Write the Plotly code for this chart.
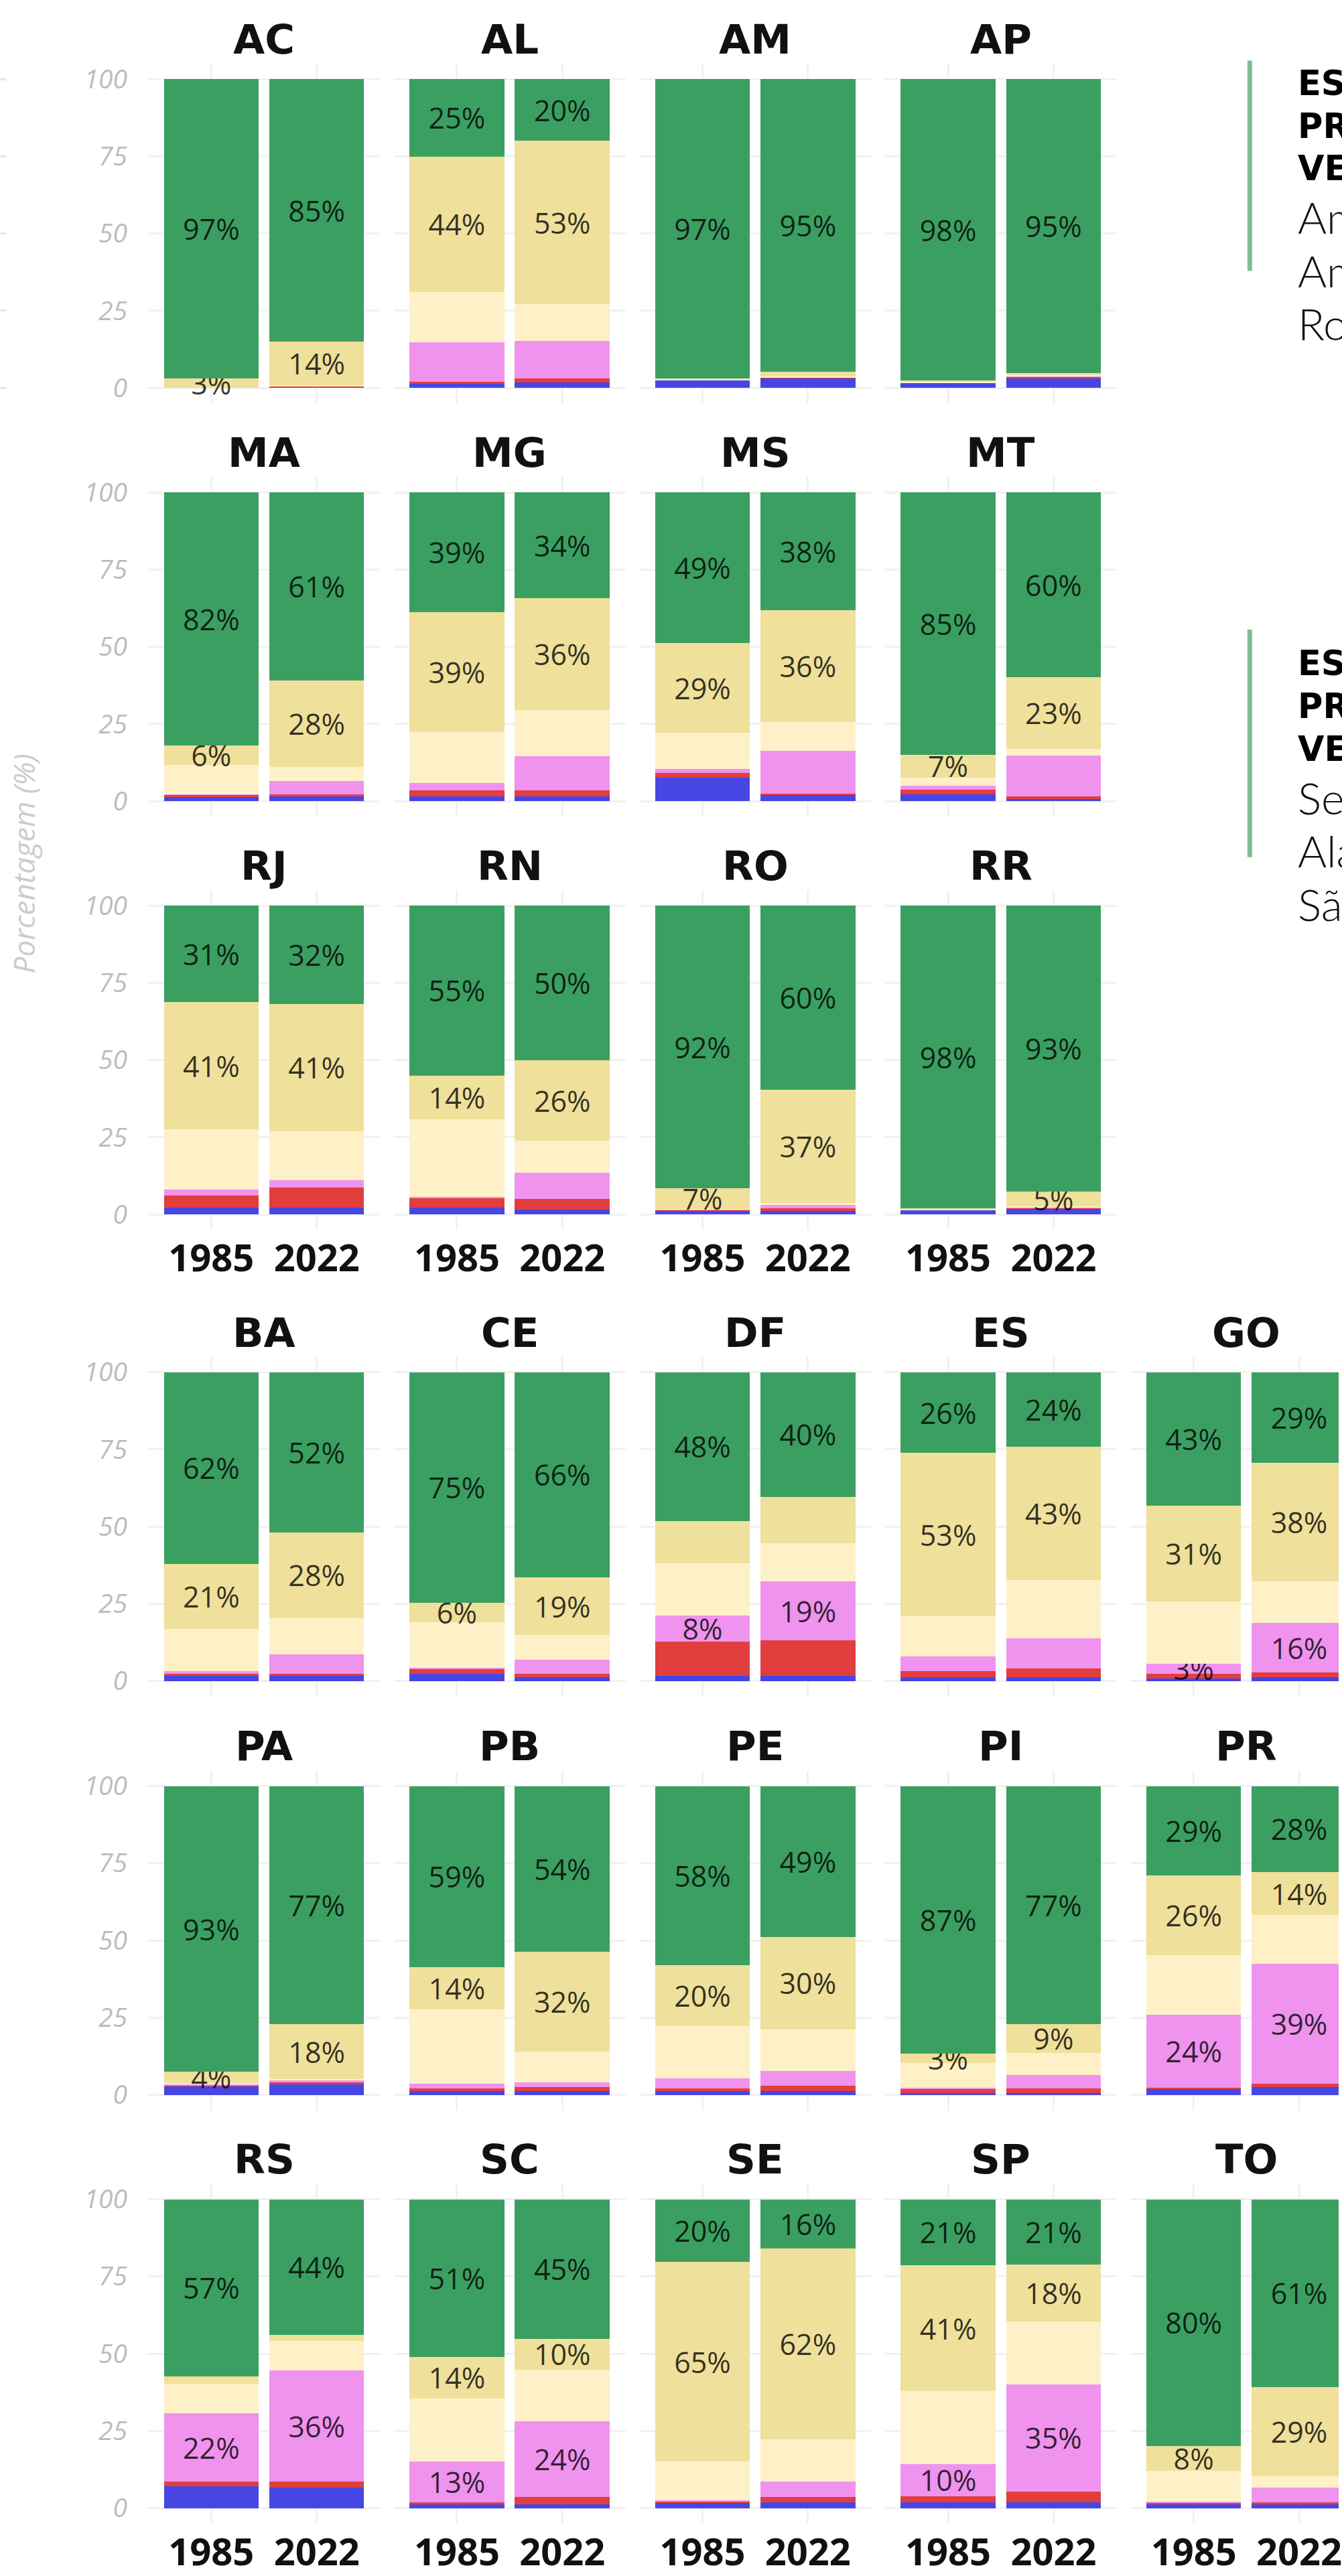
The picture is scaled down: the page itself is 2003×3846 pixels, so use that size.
import plotly.graph_objects as go

W, H = 2003, 3846

# ---------------- data ----------------
estados_topo = ["AC", "AL", "AM", "AP", "MA", "MG", "MS", "MT", "RJ", "RN", "RO", "RR"]
estados_base = ["BA", "CE", "DF", "ES", "GO", "PA", "PB", "PE", "PI", "PR",
                "RS", "SC", "SE", "SP", "TO"]
anos = ["1985", "2022"]

classes = ["Água", "Área não vegetada", "Agricultura", "Mosaico de usos",
           "Pastagem", "Vegetação nativa"]

# values per state: [1985, 2022] (percent of area)
agua = {"AC": [0, 0], "AL": [1.3, 1.8], "AM": [2.5, 3.1], "AP": [1.6, 3.0],
        "MA": [1.3, 1.5], "MG": [1.5, 1.5], "MS": [7.7, 1.9], "MT": [2.3, 0.8],
        "RJ": [2.3, 2.3], "RN": [2.3, 1.5], "RO": [1.1, 1.1], "RR": [1.5, 1.9],
        "BA": [1.6, 1.6], "CE": [2.4, 1.2], "DF": [1.6, 1.6], "ES": [1.2, 1.2],
        "GO": [0.8, 1.2], "PA": [2.9, 3.6], "PB": [1.3, 1.3], "PE": [1.3, 1.3],
        "PI": [0.5, 0.5], "PR": [1.8, 2.5], "RS": [7.0, 6.7], "SC": [1.2, 1.3],
        "SE": [1.8, 1.8], "SP": [1.8, 1.8], "TO": [1.3, 1.2]}
nao_vegetada = {"AC": [0, 0.5], "AL": [0.7, 1.3], "AM": [0, 0.2], "AP": [0, 0.5],
                "MA": [0.7, 0.8], "MG": [2.0, 2.0], "MS": [1.5, 0.6], "MT": [1.5, 0.8],
                "RJ": [3.9, 6.5], "RN": [3.1, 3.5], "RO": [0.3, 0.8], "RR": [0, 0.2],
                "BA": [0.8, 0.8], "CE": [1.6, 1.2], "DF": [11.1, 11.5], "ES": [2.0, 2.8],
                "GO": [1.6, 1.6], "PA": [0.3, 0.4], "PB": [0.8, 1.2], "PE": [0.8, 1.6],
                "PI": [1.6, 1.6], "PR": [0.5, 1.2], "RS": [1.5, 1.8], "SC": [0.6, 2.3],
                "SE": [0.4, 1.8], "SP": [2.1, 3.5], "TO": [0.5, 0.6]}
agricultura = {"AC": [0, 0], "AL": [12.7, 12.1], "AM": [0, 0.1], "AP": [0, 0.4],
               "MA": [0.3, 4.2], "MG": [2.3, 11.1], "MS": [1.2, 13.8], "MT": [1.2, 13.1],
               "RJ": [1.9, 2.4], "RN": [0.2, 8.5], "RO": [0.2, 1.2], "RR": [0, 0.2],
               "BA": [0.8, 6.3], "CE": [0.3, 4.4], "DF": [8.4, 19.1], "ES": [4.7, 9.9],
               "GO": [3.2, 15.9], "PA": [0.4, 0.8], "PB": [1.6, 1.6], "PE": [3.2, 4.8],
               "PI": [0.3, 4.4], "PR": [23.7, 38.8], "RS": [22.2, 36.0], "SC": [13.3, 24.4],
               "SE": [0.4, 4.9], "SP": [10.3, 34.8], "TO": [0.3, 4.9]}
mosaico = {"AC": [0, 0.5], "AL": [16.3, 12.0], "AM": [0.2, 0.3], "AP": [0.3, 0.2],
           "MA": [9.5, 4.7], "MG": [16.5, 15.0], "MS": [11.7, 9.3], "MT": [2.7, 2.3],
           "RJ": [19.4, 15.8], "RN": [25.2, 10.3], "RO": [0.2, 0.7], "RR": [0.2, 0.3],
           "BA": [13.6, 11.6], "CE": [14.8, 8.0], "DF": [17.1, 12.3], "ES": [13.1, 18.8],
           "GO": [20.2, 13.5], "PA": [0.2, 0.3], "PB": [23.9, 10.0], "PE": [16.9, 13.5],
           "PI": [7.9, 7.1], "PR": [19.2, 15.7], "RS": [9.6, 9.6], "SC": [20.3, 16.8],
           "SE": [12.4, 13.8], "SP": [23.6, 20.4], "TO": [9.9, 3.7]}
pastagem = {"AC": [3.0, 14.0], "AL": [44.0, 52.8], "AM": [0.3, 1.6], "AP": [0.5, 0.7],
            "MA": [6.2, 28.0], "MG": [38.9, 36.2], "MS": [29.2, 36.3], "MT": [7.3, 23.2],
            "RJ": [41.3, 41.1], "RN": [14.2, 26.2], "RO": [6.6, 36.6], "RR": [0.2, 4.8],
            "BA": [21.0, 27.8], "CE": [6.2, 18.8], "DF": [13.6, 15.1], "ES": [52.8, 43.2],
            "GO": [31.0, 38.4], "PA": [3.6, 17.7], "PB": [13.7, 32.2], "PE": [19.7, 29.9],
            "PI": [3.0, 9.2], "PR": [25.8, 14.0], "RS": [2.4, 2.0], "SC": [13.6, 10.0],
            "SE": [64.8, 61.8], "SP": [40.9, 18.3], "TO": [8.0, 28.8]}
vegetacao = {"AC": [97.0, 85.0], "AL": [25.0, 20.0], "AM": [97.0, 94.7], "AP": [97.6, 95.2],
             "MA": [82.0, 60.8], "MG": [38.8, 34.2], "MS": [48.7, 38.1], "MT": [85.0, 59.8],
             "RJ": [31.2, 31.9], "RN": [55.0, 50.0], "RO": [91.6, 59.6], "RR": [98.1, 92.6],
             "BA": [62.2, 51.9], "CE": [74.7, 66.4], "DF": [48.2, 40.4], "ES": [26.2, 24.1],
             "GO": [43.2, 29.4], "PA": [92.6, 77.2], "PB": [58.7, 53.7], "PE": [58.1, 48.9],
             "PI": [86.7, 77.2], "PR": [29.0, 27.8], "RS": [57.3, 43.9], "SC": [51.0, 45.2],
             "SE": [20.2, 15.9], "SP": [21.3, 21.2], "TO": [80.0, 60.8]}

series = [agua, nao_vegetada, agricultura, mosaico, pastagem, vegetacao]

# which classes carry a percentage label
rotulo_agricultura = ["DF", "GO", "PR", "RS", "SC", "SP"]
sem_rotulo_pastagem = ["DF", "RS"]
rotulo_minimo = 2.5

ticks_y = [0, 25, 50, 75, 100]

bloco1_titulo = ["ESTADOS COM MAIOR", "PROPORÇÃO DE", "VEGETAÇÃO NATIVA"]
bloco1_estados = ["Amapá", "Amazonas", "Roraima"]
bloco2_titulo = ["ESTADOS COM MENOR", "PROPORÇÃO DE", "VEGETAÇÃO NATIVA"]
bloco2_estados = ["Sergipe", "Alagoas", "São Paulo"]

# ---------------- style ----------------
cores = ["#4646e4", "#e23e3e", "#ef93ee", "#fef1c8", "#efe09b", "#3c9f62"]
GRID = "#f1f1f1"
PANEL_W = 347.0
X_UNIT = PANEL_W / 2.2
Y_UNIT = 4.64
COL0 = 395.0
COL_STEP = 367.5
ROWS_TOP = [114, 735, 1356]
ROWS_BASE = [2057, 2679, 3300]

fig = go.Figure()
annotations = []
shapes = []
layout_axes = {}

panels = []
for i, st in enumerate(estados_topo):
    r, k = divmod(i, 4)
    panels.append((st, r, k, ROWS_TOP[r], r == 2))
for i, st in enumerate(estados_base):
    r, k = divmod(i, 5)
    panels.append((st, r, k, ROWS_BASE[r], r == 2))

for n, (st, r, k, y100, last_row) in enumerate(panels, start=1):
    cx = COL0 + COL_STEP * k
    x0 = cx - PANEL_W / 2
    x1 = x0 + PANEL_W
    xr = [-0.6, 1.6]
    if x1 > W:
        xr = [-0.6, -0.6 + (W - x0) / X_UNIT]
        x1 = W
    ytop = y100 - 5 * Y_UNIT
    ybot = y100 + 105 * Y_UNIT
    xname = "xaxis" if n == 1 else f"xaxis{n}"
    yname = "yaxis" if n == 1 else f"yaxis{n}"
    xref = "x" if n == 1 else f"x{n}"
    yref = "y" if n == 1 else f"y{n}"

    for ci, (cls, data, cor) in enumerate(zip(classes, series, cores)):
        vals = data[st]
        show = False
        if cls == "Vegetação nativa":
            show = True
        elif cls == "Pastagem" and st not in sem_rotulo_pastagem:
            show = True
        elif cls == "Agricultura" and st in rotulo_agricultura:
            show = True
        texts = [f"{round(v)}%" if (show and v >= rotulo_minimo) else "" for v in vals]
        fig.add_trace(go.Bar(
            x=anos, y=vals, name=cls, marker=dict(color=cor, line=dict(width=0)),
            width=0.9, xaxis=xref, yaxis=yref, text=texts,
            textposition="inside", insidetextanchor="middle", textangle=0,
            textfont=dict(family="Open Sans", size=43, color="rgba(0,0,0,0.78)"),
            hoverinfo="skip", showlegend=False, cliponaxis=True))

    layout_axes[xname] = dict(
        domain=[x0 / W, x1 / W], anchor=yref, type="category",
        categoryorder="array", categoryarray=anos, range=xr,
        showgrid=True, gridcolor=GRID, gridwidth=3, zeroline=False, showline=False,
        ticks="", showticklabels=last_row, ticklabelstandoff=5,
        tickfont=dict(family="Open Sans", size=56, color="#111111", weight="bold"),
        fixedrange=True)
    layout_axes[yname] = dict(
        domain=[1 - ybot / H, 1 - ytop / H], anchor=xref, range=[-5, 105],
        tickmode="array", tickvals=ticks_y, showgrid=True, gridcolor=GRID, gridwidth=3,
        zeroline=False, showline=False, ticks="", showticklabels=(k == 0),
        ticklabelstandoff=30,
        tickfont=dict(family="Open Sans", size=39, color="#bcbcbc", style="italic"),
        fixedrange=True)

    annotations.append(dict(
        text=st, xref="paper", yref="paper", x=cx / W, y=1 - (y100 - 60) / H,
        xanchor="center", yanchor="middle", showarrow=False,
        font=dict(family="DejaVu Sans", size=61, color="#111111", weight="bold")))

# cut-off panel at the left edge (only its gridlines show)
n_extra = len(panels) + 1
layout_axes[f"xaxis{n_extra}"] = dict(domain=[0, 10 / W], anchor=f"y{n_extra}",
                                      range=[0, 1], visible=False)
layout_axes[f"yaxis{n_extra}"] = dict(
    domain=[1 - (ROWS_TOP[0] + 105 * Y_UNIT) / H, 1 - (ROWS_TOP[0] - 5 * Y_UNIT) / H],
    anchor=f"x{n_extra}", range=[-5, 105], tickvals=ticks_y, showgrid=True,
    gridcolor="#e6e6e6", gridwidth=3, zeroline=False, showticklabels=False, ticks="")
fig.add_trace(go.Scatter(x=[0.5], y=[50], mode="markers", marker=dict(opacity=0),
                         xaxis=f"x{n_extra}", yaxis=f"y{n_extra}", hoverinfo="skip",
                         showlegend=False))

# y-axis title
annotations.append(dict(
    text="Porcentagem (%)", xref="paper", yref="paper", x=35 / W, y=1 - 1293 / H,
    xanchor="center", yanchor="middle", textangle=-90, showarrow=False,
    font=dict(family="Open Sans", size=44, color="#cccccc", style="italic")))

# side text blocks
def bloco(titulo, estados, y_first_bold, line_top, line_bot):
    shapes.append(dict(type="line", xref="paper", yref="paper",
                       x0=1870 / W, x1=1870 / W, y0=1 - line_top / H, y1=1 - line_bot / H,
                       line=dict(color="#7dbe97", width=7)))
    y = y_first_bold
    for t in titulo:
        annotations.append(dict(text=t, xref="paper", yref="paper", x=1940 / W,
                                y=1 - y / H, xanchor="left", yanchor="middle",
                                showarrow=False,
                                font=dict(family="DejaVu Sans", size=51, color="#000000",
                                          weight="bold")))
        y += 64
    y += 9
    for t in estados:
        annotations.append(dict(text=t, xref="paper", yref="paper", x=1940 / W,
                                y=1 - y / H, xanchor="left", yanchor="middle",
                                showarrow=False,
                                font=dict(family="Lato", size=66, color="#111111",
                                          weight=300)))
        y += 80

bloco(bloco1_titulo, bloco1_estados, 120, 86, 402)
bloco(bloco2_titulo, bloco2_estados, 992, 941, 1283)

fig.update_layout(
    width=W, height=H, margin=dict(l=0, r=0, t=0, b=0),
    paper_bgcolor="white", plot_bgcolor="white", barmode="stack", bargap=0.1,
    uniformtext=dict(minsize=43, mode="show"),
    annotations=annotations, shapes=shapes, showlegend=False,
    **layout_axes)

fig.write_html("out.html", config={"displayModeBar": False},
               post_script="document.body.style.margin='0px';")
